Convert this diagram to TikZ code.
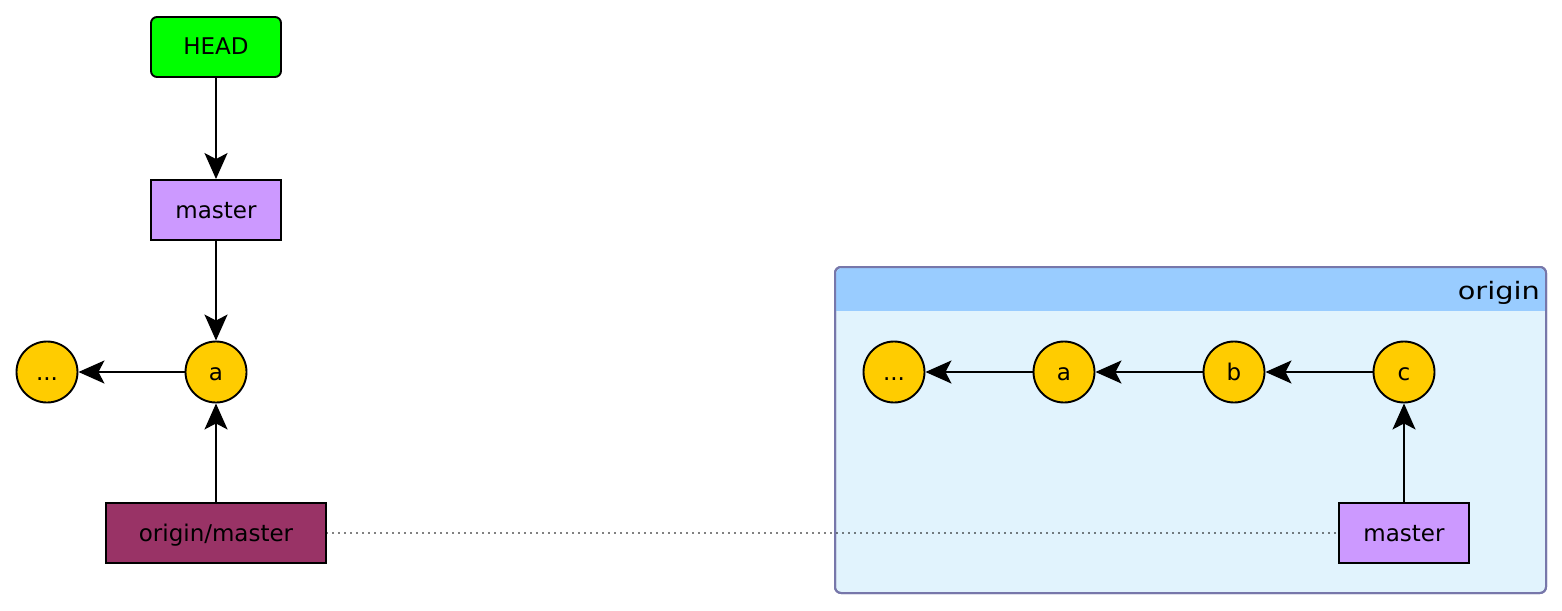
\documentclass[tikz,border=0pt]{standalone}
\usepackage{fontspec}
\setmainfont{DejaVu Sans}
\newfontfamily\widefont[FakeStretch=1.2]{DejaVu Sans}
\usetikzlibrary{arrows.meta}
\definecolor{headg}{HTML}{00FF00}
\definecolor{lav}{HTML}{CC99FF}
\definecolor{gold}{HTML}{FFCC00}
\definecolor{maroon}{HTML}{993366}
\definecolor{hdr}{HTML}{99CCFF}
\definecolor{body}{HTML}{E1F3FD}
\definecolor{frame}{HTML}{7777AA}
\begin{document}
\begin{tikzpicture}[x=1pt,y=1pt,
  txt/.style={font=\fontsize{23}{25}\selectfont, text height=17pt, text depth=1pt},
  refbox/.style={txt, draw=black, line width=1.9pt, minimum width=130pt, minimum height=60pt, inner sep=0pt},
  commit/.style={txt, circle, draw=black, line width=1.9pt, fill=gold, minimum size=61pt, inner sep=0pt},
  link/.style={line width=1.9pt, -{Stealth[length=26pt,width=23pt,inset=6pt]}}]
\useasboundingbox (0,0) rectangle (1562,-610);
% container
\draw[frame, line width=2pt, fill=body, rounded corners=6pt] (835,-267) rectangle (1546,-593);
\fill[hdr, rounded corners=6pt] (836,-268) rectangle (1545,-290);
\fill[hdr] (836,-280) rectangle (1545,-311);
\draw[frame, line width=2pt, rounded corners=6pt] (835,-267) rectangle (1546,-593);
\node[anchor=base east, font=\widefont\fontsize{24}{28}\selectfont, inner sep=0pt] (title) at (1540,-299.5) {origin};
% local
\node[refbox, fill=headg, rounded corners=6pt] (head) at (216,-47) {HEAD};
\node[refbox, fill=lav] (lmaster) at (216,-210) {master};
\node[commit] (la) at (216,-372) {a};
\node[commit] (ldots) at (47,-372) {...};
\node[refbox, fill=maroon, minimum width=220pt] (omaster) at (216,-533) {origin/master};
% remote
\node[commit] (rdots) at (894,-372) {...};
\node[commit] (ra) at (1064,-372) {a};
\node[commit] (rb) at (1234,-372) {b};
\node[commit] (rc) at (1404,-372) {c};
\node[refbox, fill=lav, minimum width=130pt] (rmaster) at (1404,-533) {master};
% connectors
\draw[link] (head) -- (lmaster);
\draw[link] (lmaster) -- (la);
\draw[link] (la) -- (ldots);
\draw[link] (omaster) -- (la);
\draw[link] (rc) -- (rb);
\draw[link] (rb) -- (ra);
\draw[link] (ra) -- (rdots);
\draw[link] (rmaster) -- (rc);
\draw[line width=1.8pt, line cap=round, dash pattern=on 0pt off 6pt] (omaster) -- (rmaster);
\end{tikzpicture}
\end{document}
